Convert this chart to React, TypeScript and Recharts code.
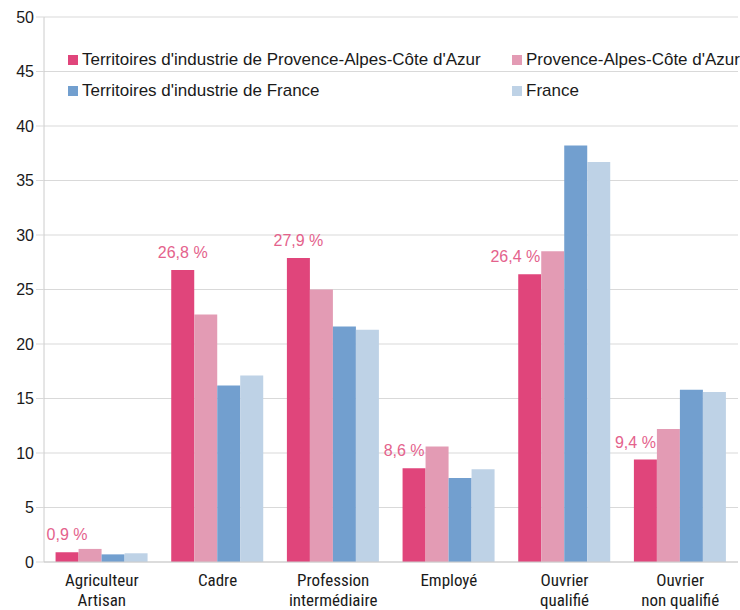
import React from "react";
import { BarChart, Bar, XAxis, YAxis, CartesianGrid, Legend, LabelList } from "recharts";

const categories = [
  "Agriculteur\nArtisan",
  "Cadre",
  "Profession\nintermédiaire",
  "Employé",
  "Ouvrier\nqualifié",
  "Ouvrier\nnon qualifié",
];
const tiPaca = [0.9, 26.8, 27.9, 8.6, 26.4, 9.4];
const paca = [1.2, 22.7, 25.0, 10.6, 28.5, 12.2];
const tiFrance = [0.7, 16.2, 21.6, 7.7, 38.2, 15.8];
const france = [0.8, 17.1, 21.3, 8.5, 36.7, 15.6];

const seriesNames = [
  "Territoires d'industrie de Provence-Alpes-Côte d'Azur",
  "Provence-Alpes-Côte d'Azur",
  "Territoires d'industrie de France",
  "France",
];
const seriesKeys = ["tiPaca", "paca", "tiFrance", "france"];
const seriesColors = ["#e0457b", "#e39bb4", "#729fcf", "#bed2e6"];
const yTicks = [0, 5, 10, 15, 20, 25, 30, 35, 40, 45, 50];
const boundaryTicks = [0, 1, 2, 3, 4, 5, 6];

const data = categories.map((c, i) => ({
  cat: c,
  tiPaca: tiPaca[i],
  paca: paca[i],
  tiFrance: tiFrance[i],
  france: france[i],
}));

const FONT = "'Liberation Sans', Arial, sans-serif";
const NARROW = "'Liberation Sans Narrow', 'Arial Narrow', 'Roboto Condensed', 'DejaVu Sans Condensed', sans-serif";

const CatTick = (props: any) => {
  const { x, y, payload } = props;
  const lines = String(payload.value).split("\n");
  return (
    <text x={x} y={y} textAnchor="middle" fill="#1a1a1a" fontSize={17} fontFamily={NARROW}>
      {lines.map((l, i) => (
        <tspan key={i} x={x} dy={i === 0 ? 24 : 19.5}>
          {l}
        </tspan>
      ))}
    </text>
  );
};

const RedLabel = (props: any) => {
  const { x, y, width, index, value } = props;
  const neighbor = paca[index];
  const shift = neighbor - value > 1;
  const txt = Number(value).toFixed(1).replace(".", ",") + " %";
  return (
    <text
      x={shift ? x + width - 1 : x + width / 2}
      y={y - 12}
      textAnchor={shift ? "end" : "middle"}
      fill="#e4628c"
      fontSize={16}
      fontFamily={FONT}
    >
      {txt}
    </text>
  );
};

const LegendContent = () => {
  const colX = [0, 444];
  const rowY = [0, 31];
  return (
    <div style={{ position: "relative", width: 680, height: 50, fontFamily: FONT, fontSize: 17, color: "#1a1a1a" }}>
      {seriesNames.map((n, i) => (
        <div
          key={n}
          style={{
            position: "absolute",
            left: colX[i % 2],
            top: rowY[Math.floor(i / 2)],
            display: "flex",
            alignItems: "center",
            whiteSpace: "nowrap",
            lineHeight: "18px",
          }}
        >
          <span style={{ display: "inline-block", width: 10, height: 10, background: seriesColors[i], marginRight: 4 }} />
          <span>{n}</span>
        </div>
      ))}
    </div>
  );
};

export default function App() {
  return (
    <div style={{ position: "absolute", left: 0, top: 0, width: 740, height: 610, background: "#fff" }}>
      <BarChart
        width={740}
        height={610}
        data={data}
        margin={{ top: 17, right: 2, left: 0, bottom: 8 }}
        barCategoryGap="10%"
        barGap={0}
      >
        <CartesianGrid vertical={false} stroke="#d9d9d9" />
        <XAxis
          xAxisId="b"
          type="number"
          domain={[0, 6]}
          ticks={boundaryTicks}
          allowDataOverflow
          height={0}
          axisLine={false}
          tickLine={{ stroke: "#dddddd" }}
          tickSize={8}
          tickFormatter={() => ""}
        />
        <XAxis
          xAxisId="a"
          dataKey="cat"
          height={40}
          axisLine={{ stroke: "#cccccc" }}
          tickLine={false}
          tickSize={0}
          tickMargin={0}
          tick={<CatTick />}
          interval={0}
        />
        <YAxis
          width={44}
          domain={[0, 50]}
          ticks={yTicks}
          interval={0}
          axisLine={{ stroke: "#cccccc" }}
          tickLine={{ stroke: "#d9d9d9" }}
          tickSize={8}
          tickMargin={2}
          tick={{ fill: "#1a1a1a", fontSize: 16, fontFamily: FONT }}
        />
        <Legend
          layout="horizontal"
          verticalAlign="middle"
          align="center"
          content={<LegendContent />}
          wrapperStyle={{ top: 51, left: 68, width: 680, height: 50 }}
        />
        {seriesKeys.map((k, i) => (
          <Bar key={k} xAxisId="a" dataKey={k} name={seriesNames[i]} fill={seriesColors[i]} isAnimationActive={false}>
            {i === 0 ? <LabelList dataKey={k} content={<RedLabel />} /> : null}
          </Bar>
        ))}
      </BarChart>
    </div>
  );
}
